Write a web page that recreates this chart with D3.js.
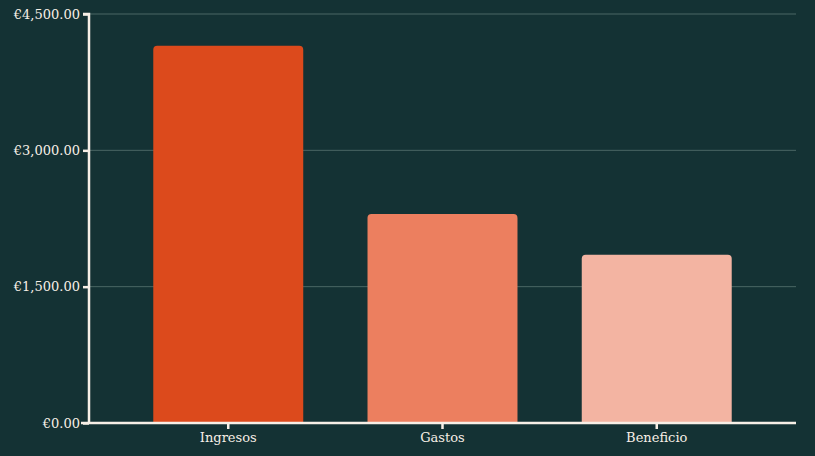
<!DOCTYPE html>
<html><head><meta charset="utf-8">
<script src="https://cdn.jsdelivr.net/npm/d3@7"></script>
<style>
html,body{margin:0;padding:0;background:#143234;}
svg{display:block;}
text{font-family:"DejaVu Serif",serif;}
</style></head>
<body>
<svg id="c" width="815" height="456"></svg>
<script>
const categories = ["Ingresos","Gastos","Beneficio"];
const values = [4150, 2300, 1850];
const colors = ["#dc4a1c","#ec7f5f","#f3b4a2"];
const yTicks = [0,1500,3000,4500];

const W=815,H=456, m={l:89,r:19,t:14,b:33};
const svg=d3.select("#c");
svg.append("rect").attr("width",W).attr("height",H).attr("fill","#143234");
const x=d3.scaleBand().domain(categories).range([m.l,W-m.r]).paddingInner(0.3).paddingOuter(0.3);
const y=d3.scaleLinear().domain([0,4500]).range([H-m.b,m.t]);
const fmt=v=>"€"+d3.format(",.2f")(v);

// grid
svg.append("g").selectAll("line").data(yTicks.filter(d=>d>0)).join("line")
  .attr("x1",m.l).attr("x2",W-m.r).attr("y1",d=>y(d)).attr("y2",d=>y(d))
  .attr("stroke","#4a6664").attr("stroke-width",1);

// bars with rounded top
const r=4;
svg.append("g").selectAll("path").data(categories).join("path")
  .attr("fill",(d,i)=>colors[i])
  .attr("d",(d,i)=>{
    const x0=x(d), w=x.bandwidth(), y0=y(values[i]), y1=y(0);
    return `M${x0},${y1}V${y0+r}Q${x0},${y0} ${x0+r},${y0}H${x0+w-r}Q${x0+w},${y0} ${x0+w},${y0+r}V${y1}Z`;
  });

// y axis
const ya=svg.append("g").attr("transform",`translate(${m.l},0)`)
  .call(d3.axisLeft(y).tickValues(yTicks).tickFormat(fmt).tickSize(6).tickPadding(3));
ya.select(".domain").attr("stroke","#f7efe6").attr("stroke-width",2.5).attr("d",`M-6,${y(4500)}H0V${y(0)}`);
ya.selectAll(".tick line").attr("stroke","#f7efe6").attr("stroke-width",2.5);
ya.selectAll(".tick text").attr("fill","#f7efe6").style("font-size","13px");

// x axis
const xa=svg.append("g").attr("transform",`translate(0,${y(0)})`)
  .call(d3.axisBottom(x).tickSize(6).tickPadding(4));
xa.select(".domain").attr("stroke","#f7efe6").attr("stroke-width",2.5).attr("d",`M${m.l-8},0H${W-m.r}`);
xa.selectAll(".tick line").attr("stroke","#f7efe6").attr("stroke-width",2.5);
xa.selectAll(".tick text").attr("fill","#f7efe6").style("font-size","13px");
</script>
</body></html>
